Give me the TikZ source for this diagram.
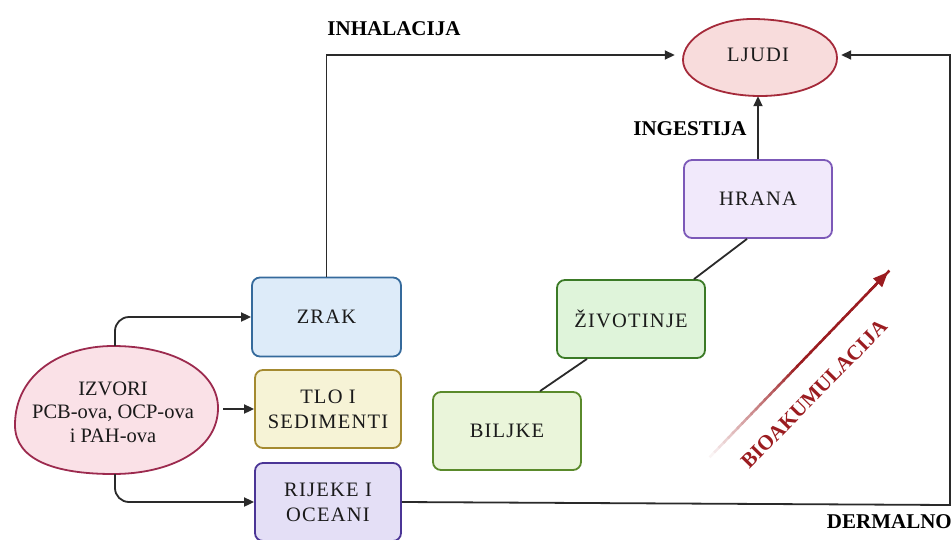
\documentclass[tikz,border=0pt]{standalone}
\usepackage{fontspec}
\setmainfont{Liberation Serif}
\newfontfamily\boxfont[LetterSpace=6]{Liberation Serif}
\usetikzlibrary{arrows.meta,calc,shapes.geometric}
\definecolor{ln}{HTML}{2A2A2A}
\definecolor{txt}{HTML}{1A1A1A}
\definecolor{ljF}{HTML}{F8DCDC}
\definecolor{ljD}{HTML}{A52A3A}
\definecolor{izF}{HTML}{FAE1E7}
\definecolor{izD}{HTML}{9C2A4E}
\definecolor{zrF}{HTML}{DDEBF9}
\definecolor{zrD}{HTML}{356A9C}
\definecolor{tlF}{HTML}{F6F3D6}
\definecolor{tlD}{HTML}{A48A30}
\definecolor{rjF}{HTML}{E4DFF6}
\definecolor{rjD}{HTML}{4B3596}
\definecolor{biF}{HTML}{EAF5DA}
\definecolor{biD}{HTML}{5A8A2B}
\definecolor{zvF}{HTML}{DFF4DA}
\definecolor{zvD}{HTML}{3B7A26}
\definecolor{hrF}{HTML}{F1E9FB}
\definecolor{hrD}{HTML}{7C59B8}
\definecolor{bio}{HTML}{9B1C20}
\begin{document}
\begin{tikzpicture}[x=1pt,y=-1pt,
  box/.style={draw, rounded corners=8pt, line width=1.8pt, minimum width=148pt, minimum height=78pt,
    inner sep=0pt, align=center, text=txt, font=\boxfont\fontsize{20.5}{25}\selectfont},
  conn/.style={line width=1.8pt, draw=ln},
  arr/.style={conn, -{Triangle[length=10pt,width=9pt]}},
  lab/.style={font=\bfseries\fontsize{21}{24}\selectfont, text=black, inner sep=0pt},
  blob/.style={line width=1.8pt}]
\useasboundingbox (0,0) rectangle (952,539);
\clip (0,0) rectangle (952,539);

% blobs
\draw[blob, fill=ljF, draw=ljD] (683,60) .. controls (683,38) and (715,19) .. (752,19)
  .. controls (795,19) and (837,32) .. (837,58)
  .. controls (837,82) and (800,96) .. (760,96)
  .. controls (720,96) and (683,82) .. cycle;
\node[ellipse, minimum width=152pt, minimum height=78pt, inner sep=0pt, font=\boxfont\fontsize{20.5}{25}\selectfont, text=txt] (ljudi) at (758,55) {LJUDI};

\draw[blob, fill=izF, draw=izD] (15,425) .. controls (15,375) and (60,346) .. (113,346)
  .. controls (175,346) and (218,372) .. (218,408)
  .. controls (218,450) and (170,474) .. (113,474)
  .. controls (55,474) and (15,460) .. cycle;
\node[ellipse, minimum width=206pt, minimum height=128pt, inner sep=0pt] (izv) at (115,410) {};
\node[align=center, text=txt, inner sep=0pt, font=\fontsize{20.5}{23.5}\selectfont] (izvT) at (113,412) {IZVORI\\PCB-ova, OCP-ova\\i PAH-ova};

% boxes
\node[box, fill=zrF, draw=zrD, minimum width=149pt, minimum height=79pt] (zrak) at (326.5,317) {ZRAK};
\node[box, fill=tlF, draw=tlD, minimum width=146pt] (tlo) at (328,409) {TLO I\\SEDIMENTI};
\node[box, fill=rjF, draw=rjD, minimum width=146pt] (rij) at (328,502) {RIJEKE I\\OCEANI};
\node[box, fill=biF, draw=biD] (bil) at (507,431) {BILJKE};
\node[box, fill=zvF, draw=zvD] (ziv) at (631,319) {ŽIVOTINJE};
\node[box, fill=hrF, draw=hrD] (hr) at (758,199) {HRANA};

% connectors
\draw[arr, rounded corners=14pt] (izv.north) |- (zrak.west);
\draw[arr, shorten <=5pt] (izv.east |- tlo.west) -- (tlo.west);
\draw[arr, rounded corners=14pt] (izv.south) |- (rij.west);
\draw[arr, shorten >=7pt] (zrak.north) |- (ljudi.west);
\draw[arr, shorten >=2pt] (hr.north) -- (ljudi.south);
\coordinate (rb) at (950,505);
\coordinate (rt) at (950,55);
\draw[arr, shorten >=7pt] (rij.east) -- (rb) -- (rt) -- (ljudi.east);
\draw[conn] ([xshift=-11pt]hr.south) -- ([xshift=63pt]ziv.north);
\draw[conn] ([xshift=-44pt]ziv.south) -- ([xshift=33pt]bil.north);

% labels
\node[lab] (inh) at (394,29) {INHALACIJA};
\node[lab] (ing) at (690,129) {INGESTIJA};
\node[lab, anchor=east] (derm) at (952,522) {DERMALNO};

% bioaccumulation arrow
\coordinate (bs) at (705,462);
\coordinate (be) at (888,272);
\foreach \i in {0,...,39} {
  \pgfmathtruncatemacro\c{min(100,\i*5)}
  \pgfmathsetmacro\ta{\i/40}
  \pgfmathsetmacro\tb{(\i+1.3)/40}
  \draw[line width=2.5pt, draw=bio!\c!white] ($(bs)!\ta!(be)$) -- ($(bs)!\tb!(be)$);
}
\draw[line width=2.5pt, draw=bio, -{Triangle[length=15pt,width=12pt]}] ($(bs)!0.9!(be)$) -- (be);
\node[font=\bfseries\fontsize{21}{24}\selectfont, text=bio, rotate=45.5, inner sep=0pt] (bioT) at (814,394) {BIOAKUMULACIJA};
\end{tikzpicture}
\end{document}
